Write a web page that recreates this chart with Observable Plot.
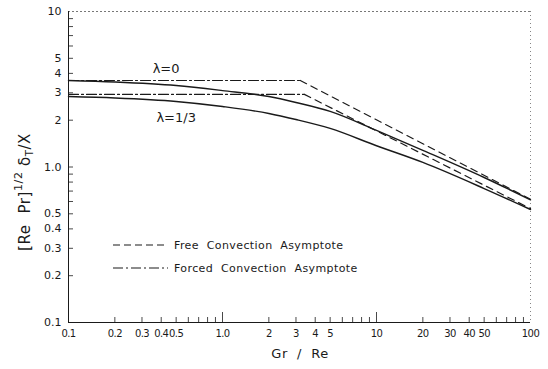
<!DOCTYPE html>
<html><head><meta charset="utf-8">
<script src="https://cdn.jsdelivr.net/npm/d3@7"></script>
<script src="https://cdn.jsdelivr.net/npm/@observablehq/plot@0.6"></script>
<style>body{margin:0;background:#fff}svg{font-family:"DejaVu Sans",sans-serif}</style>
</head><body><div id="chart"></div>
<script>
// Gr/Re sample points for the exact (mixed convection) curves
const grRe = [0.1, 0.2, 0.5, 1, 2, 3, 5, 10, 20, 50, 100];
const solidLambda0 = [3.60, 3.52, 3.34, 3.10, 2.84, 2.60, 2.28, 1.72, 1.28, 0.856, 0.615];
const solidLambda13 = [2.84, 2.78, 2.64, 2.45, 2.21, 2.02, 1.77, 1.37, 1.07, 0.727, 0.533];
// Forced convection asymptotes (dash-dot)
const forcedGr0 = [0.1, 3.2], forcedVal0 = [3.6, 3.6];
const forcedGr13 = [0.1, 3.4], forcedVal13 = [2.93, 2.93];
// Free convection asymptotes (dashed)
const freeGr0 = [3.2, 100], freeVal0 = [3.6, 0.62];
const freeGr13 = [3.4, 100], freeVal13 = [2.93, 0.54];
// Curve labels
const curveLabels = ["λ=0", "λ=1/3"];
const labelGr = [0.43, 0.50], labelVal = [4.3, 2.08];
// Tick labels
const xTickValues = [0.1, 0.2, 0.3, 0.4, 0.5, 1, 2, 3, 4, 5, 10, 20, 30, 40, 50, 100];
const xTickText = ["0.1", "0.2", "0.3", "0.4", "0.5", "1.0", "2", "3", "4", "5", "10", "20", "30", "40", "50", "100"];
const yTickValues = [0.1, 0.2, 0.3, 0.4, 0.5, 1, 2, 3, 4, 5, 10];
const yTickText = ["0.1", "0.2", "0.3", "0.4", "0.5", "1.0", "2", "3", "4", "5", "10"];
const majorTicks = [1, 10];
const minorTicks = [0.2,0.3,0.4,0.5,0.6,0.7,0.8,0.9,2,3,4,5,6,7,8,9,20,30,40,50,60,70,80,90];
const yMinorTicks = [0.2,0.3,0.4,0.5,0.6,0.7,0.8,0.9,1,2,3,4,5,6,7,8,9];

const W = 548, H = 369, mL = 68, mR = 18, mT = 11, mB = 47;
const innerW = W - mL - mR, innerH = H - mT - mB;
const toRows = (xs, ys) => xs.map((x, i) => ({x, y: ys[i]}));
const ink = "#1a1a1a";

const plot = Plot.plot({
  width: W, height: H,
  marginLeft: mL, marginRight: mR, marginTop: mT, marginBottom: mB,
  x: {type: "log", domain: [0.1, 100], axis: null},
  y: {type: "log", domain: [0.1, 10], axis: null},
  style: {fontFamily: "DejaVu Sans, sans-serif", fontSize: "11px", color: ink, background: "#fff"},
  marks: [
    Plot.text(xTickValues, {x: d => d, text: (d, i) => xTickText[i], frameAnchor: "bottom", dy: 14, fontSize: 10, fill: ink}),
    Plot.text(yTickValues, {y: d => d, text: (d, i) => yTickText[i], frameAnchor: "left", dx: -7, textAnchor: "end", fontSize: 11, fill: ink}),
    Plot.ruleX(minorTicks, {x: d => d, insetTop: innerH - 5, stroke: ink, strokeWidth: 0.8}),
    Plot.ruleX(majorTicks, {x: d => d, insetTop: innerH - 10, stroke: ink, strokeWidth: 0.8}),
    Plot.ruleY(yMinorTicks, {y: d => d, insetRight: innerW - 5, stroke: ink, strokeWidth: 0.8}),
    Plot.ruleY([10], {stroke: "#555", strokeWidth: 0.8, strokeDasharray: "2,2"}),
    Plot.ruleX([100], {stroke: "#666", strokeWidth: 0.8, strokeDasharray: "1,3"}),
    Plot.ruleX([0.1], {stroke: ink, strokeWidth: 1}),
    Plot.ruleY([0.1], {stroke: ink, strokeWidth: 1}),
    Plot.line(toRows(forcedGr0, forcedVal0), {x: "x", y: "y", stroke: ink, strokeWidth: 1.2, strokeDasharray: "10,3,2,3"}),
    Plot.line(toRows(forcedGr13, forcedVal13), {x: "x", y: "y", stroke: ink, strokeWidth: 1.2, strokeDasharray: "10,3,2,3"}),
    Plot.line(toRows(freeGr0, freeVal0), {x: "x", y: "y", stroke: ink, strokeWidth: 1.2, strokeDasharray: "7,5"}),
    Plot.line(toRows(freeGr13, freeVal13), {x: "x", y: "y", stroke: ink, strokeWidth: 1.2, strokeDasharray: "7,5"}),
    Plot.line(toRows(grRe, solidLambda0), {x: "x", y: "y", stroke: ink, strokeWidth: 1.4, curve: "monotone-x"}),
    Plot.line(toRows(grRe, solidLambda13), {x: "x", y: "y", stroke: ink, strokeWidth: 1.4, curve: "monotone-x"}),
    Plot.text(curveLabels.map((t, i) => ({t, x: labelGr[i], y: labelVal[i]})), {x: "x", y: "y", text: "t", fontSize: 13, fill: ink})
  ]
});

const svg = d3.select(plot);
// tighten x tick labels (0.3 0.4 0.5 sit close together, as in the original)
svg.selectAll('g[aria-label="text"]').filter((d, i) => i === 0).attr("letter-spacing", -0.6);
// Y axis title
const yt = svg.append("text")
  .attr("transform", "translate(30,192) rotate(-90)")
  .attr("text-anchor", "middle").attr("fill", ink).attr("font-size", 15).attr("letter-spacing", 0.6);
yt.append("tspan").text("[Re  Pr]");
yt.append("tspan").attr("font-size", 11).attr("dy", -8).text("1/2");
yt.append("tspan").attr("dy", 8).text(" δ");
yt.append("tspan").attr("font-size", 10).attr("dy", 3).text("T");
yt.append("tspan").attr("dy", -3).text("/X");
// X axis title
svg.append("text").attr("x", 300).attr("y", 358).attr("text-anchor", "middle")
  .attr("fill", ink).attr("font-size", 13).attr("letter-spacing", 0.5).text("Gr  /  Re");
// Legend
const legend = [
  {label: "Free  Convection  Asymptote", dash: "7,4", y: 245},
  {label: "Forced  Convection  Asymptote", dash: "10,3,2,3", y: 268}
];
legend.forEach(l => {
  svg.append("line").attr("x1", 113).attr("x2", 168).attr("y1", l.y).attr("y2", l.y)
    .attr("stroke", ink).attr("stroke-width", 1.2).attr("stroke-dasharray", l.dash);
  svg.append("text").attr("x", 174).attr("y", l.y + 4).attr("fill", ink).attr("text-anchor", "start")
    .attr("font-size", 11).attr("letter-spacing", 0.4).text(l.label);
});
document.getElementById("chart").appendChild(plot);
</script></body></html>
